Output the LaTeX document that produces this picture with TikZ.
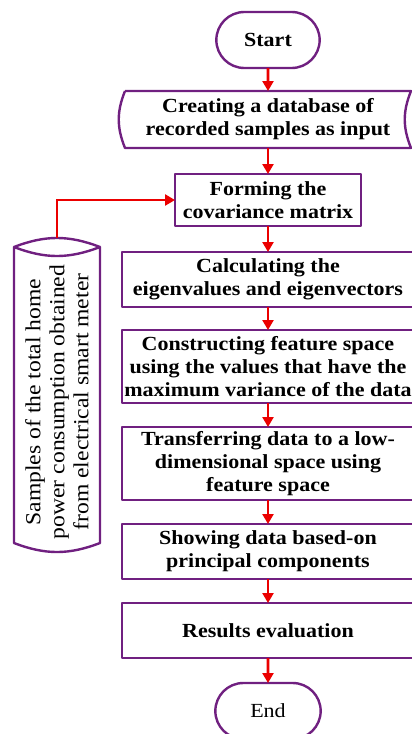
\documentclass[tikz,border=0pt]{standalone}
\usepackage{fontspec}
\setmainfont{Liberation Serif}[FakeStretch=1.1]
\usepackage{tikz}
\usetikzlibrary{shapes}
\usetikzlibrary{positioning}
\usetikzlibrary{arrows.meta}
\definecolor{flowpurple}{RGB}{112,32,128}
\definecolor{flowred}{RGB}{235,0,0}
\newcommand{\boxfont}{\fontsize{20}{23}\selectfont\bfseries}
\newcommand{\meterfont}{\fontsize{21.5}{24}\selectfont}
\tikzstyle{flow} = [draw=flowpurple,line width=2.4pt,line join=round]
\tikzstyle{term} = [flow,rounded rectangle,minimum width=110pt,minimum height=56pt,outer sep=0pt,font=\boxfont]
\tikzstyle{proc} = [flow,rectangle,align=center,minimum width=292pt,inner sep=2pt,outer sep=0pt,font=\boxfont]
\tikzstyle{io} = [rectangle,align=center,minimum width=286pt,minimum height=57pt,inner sep=2pt,outer sep=0pt,font=\boxfont]

\begin{document}
\begin{tikzpicture}
	[x=1pt,y=-1pt,node distance=24pt]
	\tikzstyle{arrow}=[-{Triangle[length=10pt,width=11pt]},color=flowred,line width=2.6pt];
	\useasboundingbox (0,0) rectangle (412,734);
	\clip (0,0) rectangle (412,734);
	\node (start) [term] at (268,40) {Start};
	\node (input) [io,below=23pt of start] {Creating a database of\\recorded samples as input};
	\draw[flow] (input.north west) -- (input.north east) to[bend right=22] (input.south east)
		-- (input.south west) to[bend left=22] (input.north west);
	\node (cov) [proc,minimum width=186pt,minimum height=52pt,below=26pt of input] {Forming the\\covariance matrix};
	\node (eig) [proc,minimum height=55pt,below=26pt of cov] {Calculating the\\eigenvalues and eigenvectors};
	\node (feat) [proc,minimum height=73pt,below=23pt of eig] {Constructing feature space\\using the values that have the\\maximum variance of the data};
	\node (low) [proc,minimum height=73pt,below=of feat] {Transferring data to a low-\\dimensional space using\\feature space};
	\node (pc) [proc,minimum height=55pt,below=of low] {Showing data based-on\\principal components};
	\node (eval) [proc,minimum height=55pt,below=of pc] {Results evaluation};
	\node (end) [term,minimum width=112pt,below=25pt of eval,font=\fontsize{20}{23}\selectfont] {End};
	% smart meter samples
	\node (meter) [minimum width=86pt,minimum height=296pt,outer sep=0pt] at (57,395) {};
	\draw[flow] (meter.north west) -- (meter.south west) to[bend right=21] (meter.south east)
		-- (meter.north east) to[bend right=21] (meter.north west) to[bend right=21] (meter.north east);
	\node (metertext) [rotate=90,align=center,font=\meterfont] at (57,402) {Samples of the total home\\power consumption obtained\\from electrical smart meter};
	\coordinate (metertop) at ([yshift=9pt]meter.north);
	\draw[arrow] (metertop) |- (cov.west);
	\path[arrow]
		(start) edge (input)
		(input) edge (cov)
		(cov) edge (eig)
		(eig) edge (feat)
		(feat) edge (low)
		(low) edge (pc)
		(pc) edge (eval)
		(eval) edge (end);
\end{tikzpicture}
\end{document}
